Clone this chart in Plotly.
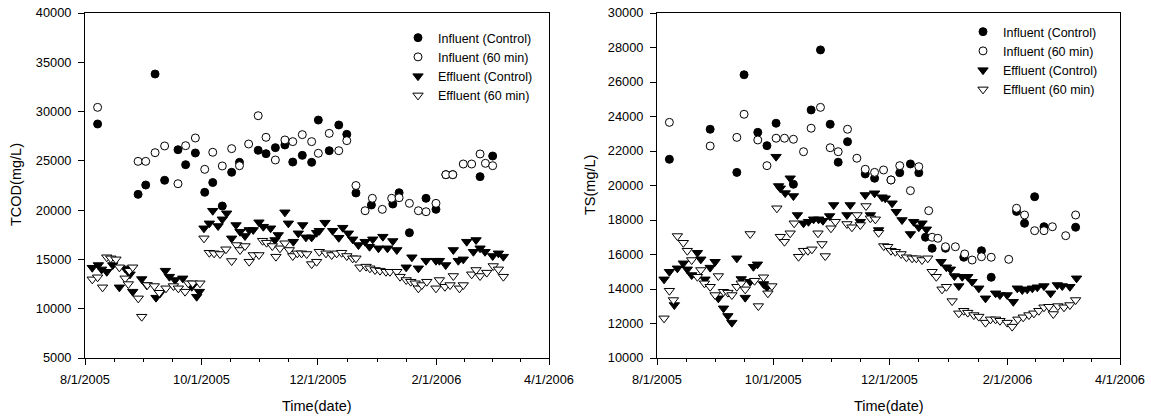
import pandas as pd
import plotly.graph_objects as go

BASE = pd.Timestamp("2005-08-01")

# ---------------- TCOD (left) : day offset from 8/1/2005, value mg/L ----------------
tcod_inf_ctrl_day = [6.6, 27.8, 31.8, 36.7, 41.7, 48.7, 52.7, 57.8, 62.7, 66.9, 71.9, 76.8, 80.9,
                     90.7, 94.8, 99.7, 104.7, 108.8, 113.8, 118.7, 122.2, 127.9, 132.9, 137.1, 141.9,
                     150.0, 161.2, 164.5, 169.9, 178.6, 183.8, 189.0, 192.6, 206.9, 213.5]
tcod_inf_ctrl_val = [28740, 21600, 22550, 33810, 23030, 26130, 24610, 25800, 21810, 22800, 20420, 23840, 24850,
                     26070, 25730, 26340, 26610, 24880, 25560, 24850, 29140, 26030, 28640, 27690, 21740,
                     20520, 20620, 21770, 17710, 21200, 20080, 23600, 23600, 23400, 25490]

tcod_inf_60_day = [6.6, 27.8, 31.8, 36.7, 41.7, 48.7, 52.7, 57.8, 62.7, 66.9, 71.9, 76.8, 80.9, 85.7,
                   90.7, 94.8, 99.7, 104.7, 108.8, 113.8, 118.7, 122.2, 127.9, 132.9, 137.1, 141.9,
                   146.7, 150.5, 155.7, 160.6, 164.5, 169.9, 174.6, 178.6, 183.8, 189.0, 192.6,
                   198.1, 202.5, 206.9, 209.7, 213.5]
tcod_inf_60_val = [30430, 24950, 24950, 25830, 26510, 22680, 26540, 27320, 24140, 25870, 24480, 26240, 24510, 26710,
                   29580, 27390, 25090, 27120, 26950, 27660, 26950, 25770, 27790, 26030, 27050, 22500,
                   19940, 21200, 20080, 21200, 21260, 20690, 19940, 19840, 20690, 23600, 23600,
                   24680, 24680, 25700, 24750, 24510]

tcod_eff_ctrl_day = [3.8, 7.0, 8.7, 11.4, 14.5, 18.0, 21.0, 23.6, 25.0, 29.7, 32.3, 37.2, 39.3, 42.1, 44.2,
                     47.2, 51.2, 55.9, 58.5, 59.9, 62.3, 65.1, 66.9, 69.7, 71.9, 74.2, 76.8, 79.1, 81.2,
                     83.8, 86.0, 88.1, 91.1, 93.4, 97.2, 99.5, 101.2, 104.7, 106.5, 109.1, 111.7, 114.0,
                     115.7, 118.7, 121.3, 122.7, 125.7, 129.7, 132.9, 135.0, 137.9, 140.2, 143.2, 146.7,
                     149.0, 150.7, 153.7, 156.0, 158.4, 161.2, 163.3, 168.2, 171.2, 174.6, 178.6, 183.8,
                     185.6, 188.9, 192.9, 195.5, 198.1, 199.9, 203.4, 204.8, 206.9, 209.5, 213.5, 216.5, 219.1]
tcod_eff_ctrl_val = [14160, 14430, 13990, 13750, 14430, 12170, 14090, 13490, 11730, 13010, 12400, 11120, 11560, 13860, 13250,
                     12910, 13080, 12230, 11220, 11730, 18160, 18660, 19940, 18390, 19070, 19680, 17140, 18490, 17810,
                     17380, 17990, 17990, 18770, 18320, 18160, 16970, 17480, 19780, 18660, 16800, 17650, 18490,
                     17240, 17240, 17710, 17910, 18730, 17910, 17200, 18220, 17650, 17040, 16460, 16800,
                     16290, 17040, 16130, 17310, 16130, 16870, 15960, 14200, 15220, 14100, 14870, 14870,
                     14870, 14430, 15960, 14870, 15010, 16800, 15780, 16970, 16130, 15780, 15350, 15620, 15280]

tcod_eff_60_day = [3.8, 6.6, 9.2, 11.4, 13.5, 16.2, 18.0, 21.0, 22.7, 23.2, 25.0, 27.9, 29.7, 32.6, 36.3,
                   38.9, 42.4, 46.3, 48.9, 52.4, 54.1, 56.4, 60.2, 62.3, 65.1, 67.6, 70.7, 73.8, 76.8,
                   79.4, 81.2, 83.8, 86.0, 88.1, 91.1, 93.0, 95.1, 98.1, 100.0, 102.1, 104.7, 107.0,
                   108.8, 111.2, 113.4, 116.1, 118.7, 121.3, 122.7, 126.2, 129.2, 131.8, 134.4, 137.1,
                   140.2, 141.9, 144.0, 147.2, 149.2, 151.9, 154.5, 157.6, 159.7, 163.3, 165.0, 168.2,
                   170.6, 172.9, 174.6, 176.4, 179.0, 183.8, 185.6, 188.5, 191.2, 192.9, 196.1, 198.1,
                   202.5, 204.8, 206.9, 210.4, 213.8, 216.5, 219.1]
tcod_eff_60_val = [12980, 13190, 12170, 15220, 15110, 15010, 14200, 13080, 12500, 13860, 14200, 11050, 9190, 12400, 12300,
                   11620, 12070, 12300, 12070, 11730, 12580, 12580, 12580, 17140, 15680, 15620, 15550, 16030, 14840,
                   16460, 15960, 16360, 14770, 15450, 15450, 16900, 16700, 16360, 15280, 16130, 16640, 15960,
                   15350, 15620, 15620, 15550, 14530, 14770, 15780, 15620, 15450, 15620, 15680, 15350,
                   15110, 15110, 14200, 14270, 14100, 13930, 13860, 13750, 13750, 13750, 13250, 12910,
                   12740, 12580, 12070, 12400, 12740, 12070, 12910, 12230, 12400, 13320, 12070, 12400,
                   13490, 13930, 13320, 13660, 14330, 13990, 13250]

# ---------------- TS (right) ----------------
ts_inf_ctrl_day = [6.5, 27.9, 41.9, 45.7, 52.9, 57.7, 62.5, 71.6, 80.9, 85.8, 90.9, 95.1, 100.0,
                   109.3, 114.2, 122.8, 127.4, 133.0, 137.4, 140.9, 144.4, 151.4, 161.0, 170.3,
                   175.4, 188.7, 192.9, 198.2, 203.1, 219.7]
ts_inf_ctrl_val = [21520, 23260, 20760, 26420, 23080, 22310, 23610, 20070, 24380, 27860, 23550, 21350, 22540,
                   20670, 20420, 20320, 20740, 21250, 20740, 17000, 16360, 16360, 15840, 16220,
                   14680, 18500, 17810, 19350, 17610, 17580]

ts_inf_60_day = [6.5, 27.9, 41.9, 45.7, 52.9, 57.7, 62.5, 66.9, 71.6, 76.9, 80.9, 85.8, 90.9, 95.1,
                 100.0, 104.9, 109.3, 114.2, 118.9, 122.8, 127.4, 133.0, 137.4, 142.6, 144.4, 147.4,
                 151.4, 156.6, 161.5, 165.4, 170.3, 175.4, 184.6, 188.7, 192.9, 198.2, 203.1, 207.5,
                 214.5, 219.7]
ts_inf_60_val = [23660, 22290, 22790, 24130, 22640, 21150, 22740, 22740, 22680, 21960, 23320, 24530, 22190, 21960,
                 23260, 21580, 20940, 20760, 20900, 20320, 21150, 19700, 21090, 18540, 17000, 16940,
                 16450, 16450, 16030, 15680, 15870, 15840, 15720, 18680, 18290, 17380, 17380, 17610,
                 17090, 18290]

ts_eff_ctrl_day = [3.7, 6.5, 9.1, 10.7, 13.8, 15.9, 18.2, 21.2, 23.0, 25.2, 27.9, 30.5, 32.2, 34.9, 37.2,
                   39.3, 41.9, 44.2, 46.3, 48.9, 50.6, 52.7, 55.9, 57.7, 62.5, 63.8, 64.7, 67.3, 69.9,
                   71.6, 73.7, 76.9, 79.5, 82.2, 84.8, 87.1, 90.6, 92.7, 99.7, 101.4, 106.7, 109.3,
                   112.0, 114.2, 116.3, 118.1, 119.8, 123.4, 125.6, 128.6, 133.0, 134.7, 137.4, 139.1,
                   141.4, 149.1, 151.9, 154.0, 156.1, 158.4, 160.2, 163.1, 165.4, 168.9, 172.4, 177.7,
                   180.0, 183.8, 187.0, 189.1, 191.7, 194.3, 197.0, 199.6, 203.1, 206.6, 210.1, 212.7,
                   216.7, 220.2]
ts_eff_ctrl_val = [14560, 15000, 13070, 15200, 15490, 15140, 14810, 16100, 15720, 14560, 15240, 15580, 13460, 12880, 12440,
                   12050, 15780, 14580, 13500, 14420, 15290, 15430, 14290, 14100, 21670, 19970, 19840, 19560, 20420,
                   19390, 18290, 17810, 17900, 18040, 18040, 17960, 18230, 18870, 18290, 18870, 17900, 19450,
                   18290, 19550, 17420, 19320, 19260, 18970, 18480, 18000, 17190, 17900, 17580, 17810,
                   17460, 15580, 15260, 15140, 14750, 14170, 14710, 14710, 14420, 14040, 13460, 13750,
                   13650, 13650, 13260, 14040, 13940, 13980, 14040, 14100, 14170, 13750, 14230, 14170,
                   14130, 14620]

ts_eff_60_day = [3.7, 6.5, 8.6, 10.7, 13.8, 15.9, 18.2, 21.2, 23.0, 24.9, 27.9, 30.5, 32.2, 34.9, 37.2,
                 39.3, 41.9, 44.2, 46.3, 48.9, 51.2, 53.2, 55.9, 58.2, 60.3, 62.9, 64.7, 66.9, 69.9,
                 72.0, 74.3, 76.9, 79.2, 81.3, 84.5, 86.6, 88.3, 91.3, 93.6, 99.7, 102.3, 105.0, 106.7,
                 109.7, 112.0, 114.6, 116.3, 119.0, 121.1, 122.8, 125.1, 128.1, 130.9, 133.9, 136.1,
                 139.1, 142.1, 144.4, 146.6, 149.6, 151.9, 154.9, 158.4, 161.0, 163.1, 166.3, 168.9,
                 172.4, 175.0, 177.7, 180.0, 183.8, 186.4, 189.4, 192.2, 195.2, 197.8, 200.4, 203.1,
                 205.7, 208.0, 210.4, 213.6, 216.7, 219.7]
ts_eff_60_val = [12300, 13900, 13360, 17070, 16680, 16220, 15680, 14710, 15100, 14330, 14130, 13650, 14750, 13840, 13790,
                 13650, 14130, 14330, 13980, 17190, 14480, 13010, 14680, 13750, 14170, 18680, 17030, 16740, 17230,
                 17810, 15870, 16220, 16220, 16300, 17230, 16610, 15910, 17520, 17900, 17770, 17580, 18290, 17710,
                 18810, 18100, 18040, 17260, 16490, 16450, 16220, 16160, 16030, 15840, 15780, 15780,
                 15680, 15780, 15000, 14710, 13980, 14130, 13300, 12590, 12740, 12630, 12490, 12400,
                 12050, 12240, 12240, 12160, 12050, 11820, 12240, 12360, 12490, 12590, 12740, 12940,
                 12970, 12550, 13010, 12940, 13070, 13360]

series_names = ["Influent (Control)", "Influent (60 min)", "Effluent (Control)", "Effluent (60 min)"]
major_ticks = ["2005-08-01", "2005-10-01", "2005-12-01", "2006-02-01", "2006-04-01"]


def to_dates(days):
    return [BASE + pd.Timedelta(days=float(d)) for d in days]


styles = [
    dict(symbol="circle", size=8, color="black", line=dict(color="black", width=1)),
    dict(symbol="circle", size=8, color="white", line=dict(color="black", width=1)),
    dict(symbol="triangle-down", size=9, color="black", line=dict(color="black", width=1)),
    dict(symbol="triangle-down", size=9, color="white", line=dict(color="black", width=1)),
]

fig = go.Figure()

left = [(tcod_inf_ctrl_day, tcod_inf_ctrl_val), (tcod_inf_60_day, tcod_inf_60_val),
        (tcod_eff_ctrl_day, tcod_eff_ctrl_val), (tcod_eff_60_day, tcod_eff_60_val)]
right = [(ts_inf_ctrl_day, ts_inf_ctrl_val), (ts_inf_60_day, ts_inf_60_val),
         (ts_eff_ctrl_day, ts_eff_ctrl_val), (ts_eff_60_day, ts_eff_60_val)]

for i, (d, v) in enumerate(left):
    fig.add_trace(go.Scatter(x=to_dates(d), y=v, mode="markers", name=series_names[i],
                             marker=styles[i], xaxis="x", yaxis="y", legend="legend"))
for i, (d, v) in enumerate(right):
    fig.add_trace(go.Scatter(x=to_dates(d), y=v, mode="markers", name=series_names[i],
                             marker=styles[i], xaxis="x2", yaxis="y2", legend="legend2"))

W, H = 1151, 417
ydom = [1 - 358 / H, 1 - 13 / H]

# minor ticks: quarter points between the major ticks
mt = [pd.Timestamp(t) for t in major_ticks]
minor_vals = []
for a, b in zip(mt[:-1], mt[1:]):
    for k in (1, 2, 3):
        minor_vals.append(a + (b - a) * k / 4)

FAM = "Liberation Sans, Arial, sans-serif"
font_tick = dict(family=FAM, size=12.8, color="black")

xcommon = dict(type="date", range=[mt[0], mt[-1]], tickvals=mt, tickformat="%-m/%-d/%Y",
               ticks="outside", ticklen=6, tickwidth=1, tickcolor="black", ticklabelstandoff=4,
               showline=True, linecolor="black", linewidth=1, mirror=True,
               showgrid=False, zeroline=False, tickfont=font_tick, automargin=False,
               minor=dict(tickvals=minor_vals, ticks="outside", ticklen=3, tickcolor="black", showgrid=False))
ycommon = dict(ticks="outside", ticklen=6, tickwidth=1, tickcolor="black", ticklabelstandoff=4,
               showline=True, linecolor="black", linewidth=1, mirror=True, tickformat="d",
               showgrid=False, zeroline=False, tickfont=font_tick, automargin=False)

legfont = dict(size=12.5, family=FAM, color="black")
titlefont = dict(size=14.5, family=FAM, color="black")

fig.update_layout(
    width=W, height=H,
    margin=dict(l=0, r=0, t=0, b=0),
    paper_bgcolor="white", plot_bgcolor="white",
    font=dict(family=FAM, color="black"),
    xaxis=dict(domain=[85 / W, 549 / W], anchor="y", **xcommon),
    yaxis=dict(domain=ydom, anchor="x", range=[5000, 40000], dtick=5000, **ycommon),
    xaxis2=dict(domain=[657 / W, 1120 / W], anchor="y2", **xcommon),
    yaxis2=dict(domain=ydom, anchor="x2", range=[10000, 30000], dtick=2000, **ycommon),
    legend=dict(x=398 / W, y=1 - 23 / H, xanchor="left", yanchor="top",
                bgcolor="rgba(0,0,0,0)", font=legfont),
    legend2=dict(x=963 / W, y=1 - 17 / H, xanchor="left", yanchor="top",
                 bgcolor="rgba(0,0,0,0)", font=legfont),
    annotations=[
        dict(text="Time(date)", x=317 / W, y=1 - 406 / H, xref="paper", yref="paper",
             xanchor="center", yanchor="middle", showarrow=False, font=titlefont),
        dict(text="Time(date)", x=889 / W, y=1 - 406 / H, xref="paper", yref="paper",
             xanchor="center", yanchor="middle", showarrow=False, font=titlefont),
        dict(text="TCOD(mg/L)", x=16 / W, y=1 - 185 / H, xref="paper", yref="paper",
             xanchor="center", yanchor="middle", showarrow=False, textangle=-90, font=titlefont),
        dict(text="TS(mg/L)", x=590 / W, y=1 - 185 / H, xref="paper", yref="paper",
             xanchor="center", yanchor="middle", showarrow=False, textangle=-90, font=titlefont),
    ],
)

fig.write_html("out.html")
